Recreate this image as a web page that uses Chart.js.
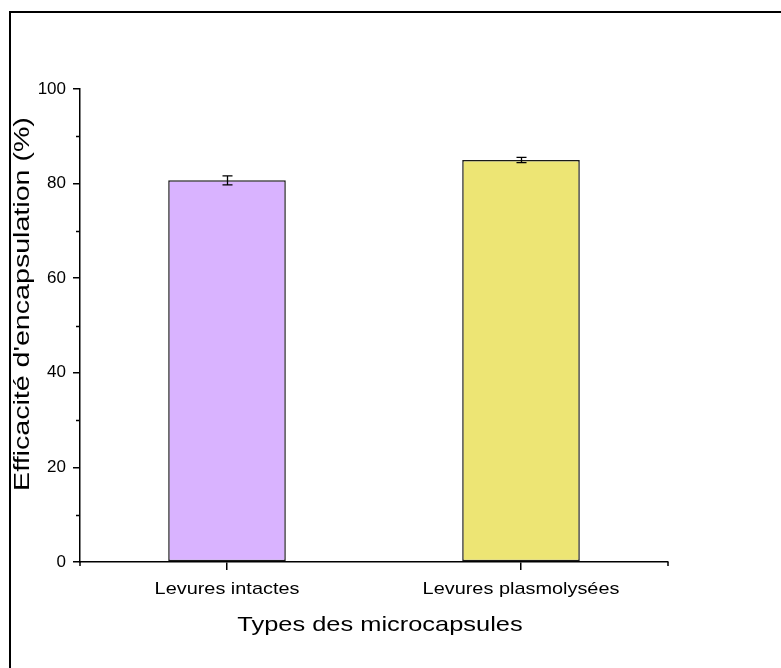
<!DOCTYPE html>
<html>
<head>
<meta charset="utf-8">
<script src="https://cdn.jsdelivr.net/npm/chart.js@4.4.1/dist/chart.umd.min.js"></script>
<style>
  body { margin: 0; background: #fff; }
  #wrap { width: 781px; height: 668px; position: relative; }
</style>
</head>
<body>
<div id="wrap"><canvas id="encapChart"></canvas></div>
<script>
var categories = ['Levures intactes', 'Levures plasmolysées'];
var efficiency = [80.7, 85.0];
var errors = [0.95, 0.55];
var barColors = ['#D9B3FF', '#EDE574'];
var yTicks = [0, 20, 40, 60, 80, 100];
var xTitle = 'Types des microcapsules';
var yTitle = "Efficacité d'encapsulation (%)";

// the original text is a bit wider than Arial, so stretch it along its run
function stretchedText(ctx, text, x, y, size, stretch, angle) {
    ctx.save();
    ctx.translate(x, y);
    if (angle) ctx.rotate(angle);
    ctx.scale(stretch, 1);
    ctx.font = size + 'px "Liberation Sans", Arial, sans-serif';
    ctx.fillStyle = '#000';
    ctx.textAlign = 'center';
    ctx.textBaseline = 'alphabetic';
    ctx.fillText(text, 0, 0);
    ctx.restore();
}

var extrasPlugin = {
    id: 'extras',
    afterDatasetsDraw: function (chart) {
        var ctx = chart.ctx;
        var x = chart.scales.x, y = chart.scales.y;
        ctx.save();
        ctx.strokeStyle = '#000';
        ctx.lineWidth = 1.3;
        efficiency.forEach(function (v, i) {
            var cx = Math.round(x.getPixelForValue(i)) + 0.5;
            var top = y.getPixelForValue(v + errors[i]);
            var bot = y.getPixelForValue(v - errors[i]);
            ctx.beginPath();
            ctx.moveTo(cx, top); ctx.lineTo(cx, bot);
            ctx.moveTo(cx - 5, top); ctx.lineTo(cx + 5, top);
            ctx.moveTo(cx - 5, bot); ctx.lineTo(cx + 5, bot);
            ctx.stroke();
        });
        ctx.restore();
    },
    afterDraw: function (chart) {
        var ctx = chart.ctx;
        var area = chart.chartArea;
        var x = chart.scales.x, y = chart.scales.y;
        ctx.save();
        ctx.strokeStyle = '#000';
        ctx.lineWidth = 1.5;
        ctx.beginPath();
        // minor ticks
        for (var v = 10; v < 100; v += 20) {
            var py = Math.round(y.getPixelForValue(v)) + 0.5;
            ctx.moveTo(area.left - 4, py);
            ctx.lineTo(area.left, py);
        }
        // axis ends
        ctx.moveTo(area.left, area.bottom);
        ctx.lineTo(area.left, area.bottom + 4);
        ctx.moveTo(area.right, area.bottom);
        ctx.lineTo(area.right, area.bottom + 4);
        ctx.stroke();
        ctx.lineWidth = 2;
        ctx.strokeRect(10, 12, 800, 700);
        ctx.restore();

        categories.forEach(function (c, i) {
            stretchedText(ctx, c, x.getPixelForValue(i), area.bottom + 32, 17, 1.17, 0);
        });
        stretchedText(ctx, xTitle, 380, 631, 21, 1.21, 0);
        stretchedText(ctx, yTitle, 29, 304, 22, 1.3, -Math.PI / 2);
    }
};

new Chart(document.getElementById('encapChart'), {
    type: 'bar',
    data: {
        labels: categories,
        datasets: [{
            data: efficiency,
            backgroundColor: barColors,
            borderColor: '#1a1a1a',
            borderWidth: 1.5,
            borderSkipped: false,
            categoryPercentage: 1,
            barPercentage: 0.4
        }]
    },
    options: {
        responsive: true,
        maintainAspectRatio: false,
        animation: false,
        layout: { padding: { left: 0, top: 89, right: 113, bottom: 0 } },
        plugins: {
            legend: { display: false },
            tooltip: { enabled: false }
        },
        scales: {
            x: {
                afterFit: function (s) { s.height = 106; },
                grid: { display: true, offset: false, drawOnChartArea: false, tickLength: 8, color: '#000', lineWidth: 1.5 },
                border: { display: true, color: '#000', width: 1.5 },
                ticks: { display: false }
            },
            y: {
                min: 0,
                max: 100,
                afterFit: function (s) { s.width = 80; },
                afterBuildTicks: function (s) {
                    s.ticks = yTicks.map(function (v) { return { value: v }; });
                },
                grid: { display: true, drawOnChartArea: false, tickLength: 7, color: '#000', lineWidth: 1.5 },
                border: { display: true, color: '#000', width: 1.5 },
                ticks: { color: '#000', font: { family: 'Liberation Sans', size: 17 }, padding: 7 }
            }
        }
    },
    plugins: [extrasPlugin]
});
</script>
</body>
</html>
